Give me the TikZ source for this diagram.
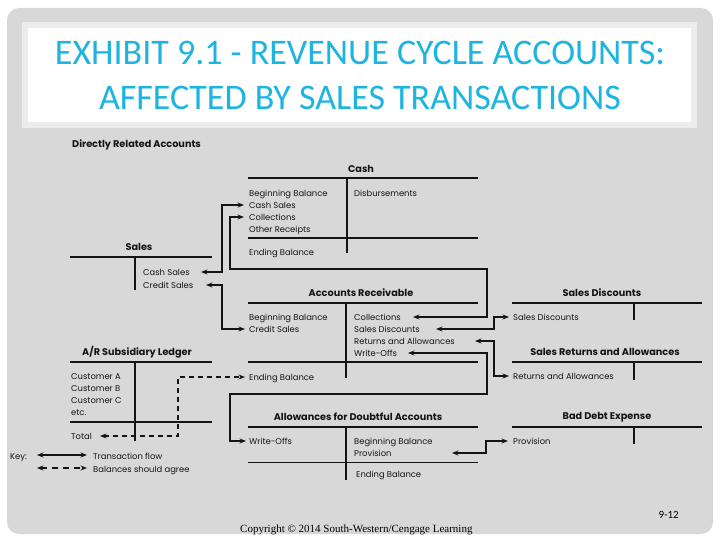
\documentclass[tikz,border=0pt]{standalone}
\usepackage{fontspec}
\setmainfont{Poppins}
\newfontfamily\titlefont{Carlito}
\newfontfamily\copyfont{Liberation Serif}
\usetikzlibrary{arrows.meta}
\definecolor{bggray}{RGB}{216,216,216}
\definecolor{bandgray}{RGB}{236,236,236}
\definecolor{titlecyan}{RGB}{30,180,224}
\definecolor{ink}{RGB}{20,20,20}
\tikzset{
  txt/.style={anchor=west,inner xsep=0pt,inner ysep=0pt,font=\fontsize{8.4}{9}\selectfont,text height=1.45ex,text depth=0.25ex,text=ink},
  ttl/.style={anchor=center,inner sep=0pt,font=\bfseries\fontsize{9.7}{11}\selectfont,text=ink},
  tline/.style={line width=1.3pt,draw=ink},
  thin/.style={line width=0.9pt,draw=ink},
  flow/.style={line width=1.3pt,draw=ink,{Stealth[length=6.5pt,width=5pt]}-{Stealth[length=6.5pt,width=5pt]}},
  agree/.style={flow,dash pattern=on 5pt off 4pt}
}
\begin{document}
\begin{tikzpicture}[x=1pt,y=-1pt]
\useasboundingbox (0,0) rectangle (720,540);
\fill[white] (0,0) rectangle (720,540);
\fill[bggray,rounded corners=12pt] (7,8) rectangle (713,534);
\fill[bandgray] (22,22) rectangle (697,128);
\fill[white] (28,28) rectangle (691,122);
\node[font=\titlefont\fontsize{36}{45}\selectfont,text=titlecyan,align=center] (title) at (360,75)
  {EXHIBIT 9.1 - REVENUE CYCLE ACCOUNTS:\\AFFECTED BY SALES TRANSACTIONS};

\node[ttl,anchor=west] (dra) at (72,145) {Directly Related Accounts};

% Cash
\node[ttl] (cashT) at (361,169) {Cash};
\draw[tline] (248,178) -- (478,178);
\draw[tline] (347,178) -- (347,253);
\draw[line width=1.8pt,draw=ink] (248,238) -- (478,238);
\node[txt] (cashBB) at (249,193) {Beginning Balance};
\node[txt] (cashCS) at (249,205) {Cash Sales};
\node[txt] (cashCo) at (249,217) {Collections};
\node[txt] (cashOR) at (249,229) {Other Receipts};
\node[txt] (cashEB) at (249,252) {Ending Balance};
\node[txt] (cashDi) at (354,193) {Disbursements};

% Sales
\node[ttl] (salesT) at (139,247) {Sales};
\draw[tline] (70,257) -- (212,257);
\draw[tline] (135,257) -- (135,290);
\node[txt] (salCS) at (143,272) {Cash Sales};
\node[txt] (salCr) at (143,285) {Credit Sales};

% Accounts Receivable
\node[ttl] (arT) at (361,293) {Accounts Receivable};
\draw[tline] (248,303) -- (478,303);
\draw[tline] (346,303) -- (346,378);
\draw[line width=1.6pt,draw=ink] (248,362) -- (478,362);
\node[txt] (arBB) at (249,317) {Beginning Balance};
\node[txt] (arCS) at (249,329) {Credit Sales};
\node[txt] (arEB) at (249,377) {Ending Balance};
\node[txt] (arCo) at (354,317) {Collections};
\node[txt] (arSD) at (354,329) {Sales Discounts};
\node[txt] (arRA) at (354,341) {Returns and Allowances};
\node[txt] (arWO) at (354,353) {Write-Offs};

% A/R Subsidiary Ledger
\node[ttl] (subT) at (137,352) {A/R Subsidiary Ledger};
\draw[line width=1.6pt,draw=ink] (70,362) -- (212,362);
\draw[tline] (135,362) -- (135,441);
\draw[line width=1.6pt,draw=ink] (70,422) -- (212,422);
\node[txt] (subA) at (71,376) {Customer A};
\node[txt] (subB) at (71,388) {Customer B};
\node[txt] (subC) at (71,400) {Customer C};
\node[txt] (subE) at (71,412) {etc.};
\node[txt] (subT2) at (71,436) {Total};

% Sales Discounts
\node[ttl] (sdT) at (602,293) {Sales Discounts};
\draw[tline] (512,303) -- (702,303);
\draw[tline] (634,303) -- (634,320);
\node[txt] (sdSD) at (513,317) {Sales Discounts};

% Sales Returns and Allowances
\node[ttl] (sraT) at (605,352) {Sales Returns and Allowances};
\draw[line width=1.6pt,draw=ink] (512,362) -- (702,362);
\draw[tline] (634,362) -- (634,380);
\node[txt] (sraRA) at (513,376) {Returns and Allowances};

% Bad Debt Expense
\node[ttl] (bdT) at (607,417) {Bad Debt Expense};
\draw[tline] (512,427) -- (702,427);
\draw[tline] (634,427) -- (634,444);
\node[txt] (bdPr) at (513,441) {Provision};

% Allowances for Doubtful Accounts
\node[ttl] (adaT) at (358,417) {Allowances for Doubtful Accounts};
\draw[tline] (248,427) -- (478,427);
\draw[tline] (346,427) -- (346,480);
\draw[thin] (248,462) -- (478,462);
\node[txt] (adaWO) at (249,441) {Write-Offs};
\node[txt] (adaBB) at (354,441) {Beginning Balance};
\node[txt] (adaPr) at (354,453) {Provision};
\node[txt] (adaEB) at (356,474) {Ending Balance};

% Connectors
\draw[flow] (201,0 |- salCS.west) -| (222,0 |- cashCS.west) -- (244,0 |- cashCS.west);
\draw[flow] (244,0 |- cashCo.west) -| (230,269) -| (487,0 |- arCo.west) -- (413,0 |- arCo.west);
\draw[flow] (206,0 |- salCr.west) -| (222,0 |- arCS.west) -- (245,0 |- arCS.west);
\draw[flow] (436,0 |- arSD.west) -| (494,0 |- sdSD.west) -- (509,0 |- sdSD.west);
\draw[flow] (475,0 |- arRA.west) -| (494,0 |- sraRA.west) -- (509,0 |- sraRA.west);
\draw[flow] (408,0 |- arWO.west) -| (487,394) -| (230,0 |- adaWO.west) -- (246,0 |- adaWO.west);
\draw[flow] (452,0 |- adaPr.west) -| (486,0 |- bdPr.west) -- (508,0 |- bdPr.west);
\draw[agree] (100,0 |- subT2.west) -| (178,0 |- arEB.west) -- (245,0 |- arEB.west);

% Key
\node[txt] (key) at (10,456) {Key:};
\coordinate (k1a) at (37,455);
\coordinate (k1b) at (87,455);
\coordinate (k2a) at (37,468);
\coordinate (k2b) at (87,468);
\draw[flow] (k1a) -- (k1b);
\draw[agree,dash pattern=on 6pt off 5pt] (k2a) -- (k2b);
\node[txt] (keyT) at (93,456) {Transaction flow};
\node[txt] (keyB) at (93,469) {Balances should agree};

% Footer
\node[anchor=east,inner sep=0pt,font=\titlefont\fontsize{11}{12}\selectfont] (pg) at (679,515) {9-12};
\node[anchor=west,inner sep=0pt,font=\copyfont\fontsize{11}{12}\selectfont] (copy) at (240,530) {Copyright © 2014 South-Western/Cengage Learning};
\end{tikzpicture}
\end{document}
